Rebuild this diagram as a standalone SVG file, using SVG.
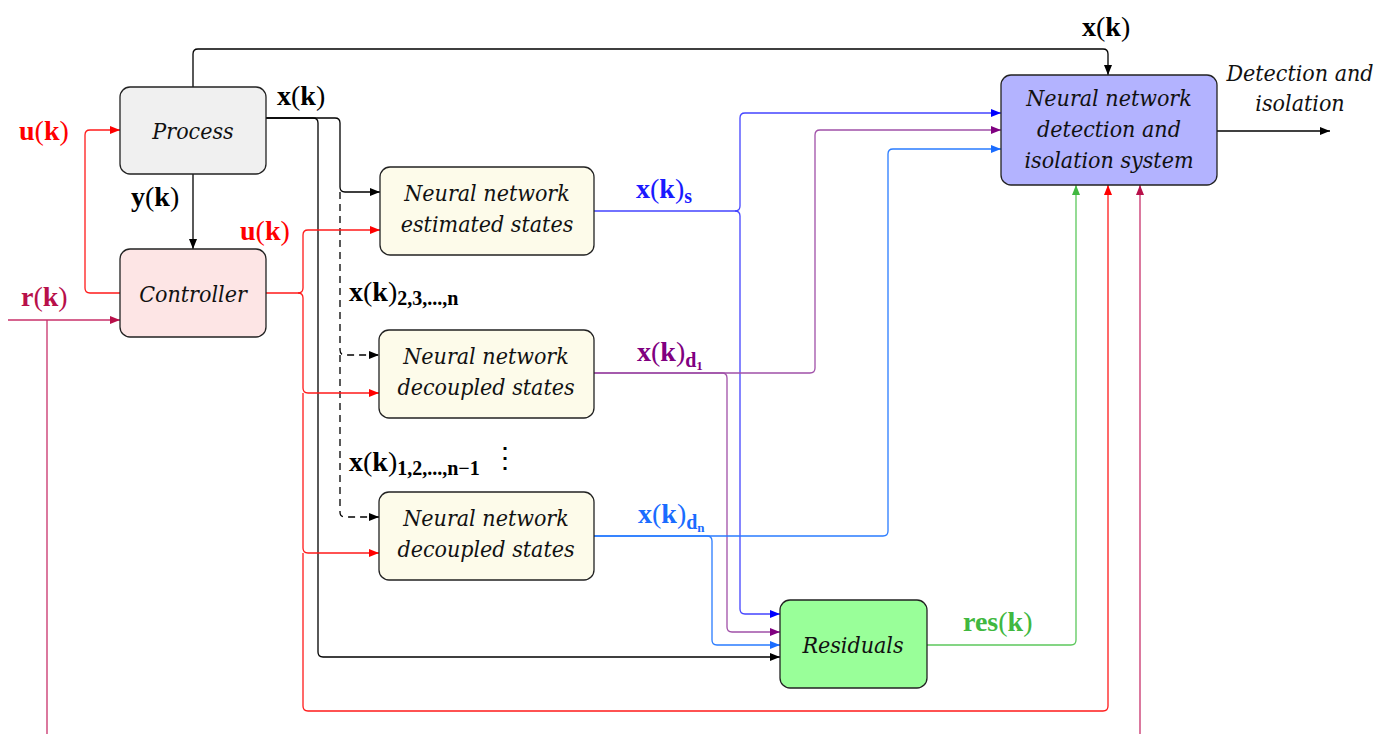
<svg xmlns="http://www.w3.org/2000/svg" width="1388" height="734" viewBox="0 0 1388 734">
<style>
.box{stroke:#222;stroke-width:1.3}
.lbl{font-family:"DejaVu Serif","Liberation Serif",serif;font-stretch:condensed;font-style:italic;font-size:23px;text-anchor:middle;fill:#111}
.m{font-family:"Liberation Serif",serif;font-size:28px}
.b{font-weight:bold}
.sub{font-weight:bold;font-size:20px}
.c{fill:none;stroke-width:1.3}
.k{stroke:#000}
.r{stroke:#ff1a1a}
.cr{stroke:#c8306a}
.g{stroke:#5cc85c}
.bl{stroke:#4444ff}
.pu{stroke:#a050a8}
.lb{stroke:#2a7cff}
</style>
<defs>
<marker id="ak" markerWidth="10" markerHeight="8" refX="10" refY="4" orient="auto" markerUnits="userSpaceOnUse"><path d="M0,0 L10,4 L0,8 Z" fill="#000"/></marker>
<marker id="ar" markerWidth="10" markerHeight="8" refX="10" refY="4" orient="auto" markerUnits="userSpaceOnUse"><path d="M0,0 L10,4 L0,8 Z" fill="#ff0000"/></marker>
<marker id="acr" markerWidth="10" markerHeight="8" refX="10" refY="4" orient="auto" markerUnits="userSpaceOnUse"><path d="M0,0 L10,4 L0,8 Z" fill="#b8104a"/></marker>
<marker id="ag" markerWidth="10" markerHeight="8" refX="10" refY="4" orient="auto" markerUnits="userSpaceOnUse"><path d="M0,0 L10,4 L0,8 Z" fill="#40b840"/></marker>
<marker id="abl" markerWidth="10" markerHeight="8" refX="10" refY="4" orient="auto" markerUnits="userSpaceOnUse"><path d="M0,0 L10,4 L0,8 Z" fill="#0000ff"/></marker>
<marker id="apu" markerWidth="10" markerHeight="8" refX="10" refY="4" orient="auto" markerUnits="userSpaceOnUse"><path d="M0,0 L10,4 L0,8 Z" fill="#800080"/></marker>
<marker id="alb" markerWidth="10" markerHeight="8" refX="10" refY="4" orient="auto" markerUnits="userSpaceOnUse"><path d="M0,0 L10,4 L0,8 Z" fill="#1a6cff"/></marker>
</defs>
<rect width="1388" height="734" fill="#fff"/>

<g id="connectors">
<path class="c k" d="M193,87 V54 Q193,49 198,49 H1103 Q1108,49 1108,54 V75" marker-end="url(#ak)"/>
<path class="c k" d="M266,118 H335 Q340,118 340,123 V187 Q340,192 345,192 H380" marker-end="url(#ak)"/>
<path class="c k" d="M266,118 H313 Q318,118 318,123 V652 Q318,657 323,657 H780" marker-end="url(#ak)"/>
<path class="c k" d="M193,174 V249" marker-end="url(#ak)"/>
<path class="c k" d="M340,192 V350 Q340,355 345,355 H379" stroke-dasharray="7,5" marker-end="url(#ak)"/>
<path class="c k" d="M340,355 V512 Q340,517 345,517 H379" stroke-dasharray="7,5" marker-end="url(#ak)"/>
<path class="c k" d="M1217,131 H1330" marker-end="url(#ak)"/>

<path class="c r" d="M120,293 H90 Q85,293 85,288 V135 Q85,130 90,130 H120" marker-end="url(#ar)"/>
<path class="c r" d="M266,293 H298 Q303,293 303,288 V235 Q303,230 308,230 H380" marker-end="url(#ar)"/>
<path class="c r" d="M298,293 Q303,293 303,298 V388 Q303,393 308,393 H379" marker-end="url(#ar)"/>
<path class="c r" d="M303,393 V548 Q303,553 308,553 H379" marker-end="url(#ar)"/>
<path class="c r" d="M303,553 V706 Q303,711 308,711 H1103 Q1108,711 1108,706 V185" marker-end="url(#ar)"/>

<path class="c cr" d="M8,320 H120" marker-end="url(#acr)"/>
<path class="c cr" d="M47,320 V734"/>
<path class="c cr" d="M1140,734 V185" marker-end="url(#acr)"/>

<path class="c g" d="M927,645 H1071 Q1076,645 1076,640 V185" marker-end="url(#ag)"/>

<path class="c bl" d="M594,211 H735 Q740,211 740,206 V118 Q740,113 745,113 H1001" marker-end="url(#abl)"/>
<path class="c bl" d="M735,211 Q740,211 740,216 V609 Q740,614 745,614 H780" marker-end="url(#abl)"/>

<path class="c pu" d="M594,373 H810 Q815,373 815,368 V135 Q815,130 820,130 H1001" marker-end="url(#apu)"/>
<path class="c pu" d="M594,373 H722 Q727,373 727,378 V627 Q727,632 732,632 H780" marker-end="url(#apu)"/>

<path class="c lb" d="M594,536 H883 Q888,536 888,531 V154 Q888,149 893,149 H1001" marker-end="url(#alb)"/>
<path class="c lb" d="M594,536 H707 Q712,536 712,541 V640 Q712,645 717,645 H780" marker-end="url(#alb)"/>
</g>

<g id="process">
<rect class="box" x="120" y="87" width="146" height="87" rx="10" fill="#f0f0f0"/>
<text class="lbl" x="193" y="139">Process</text>
</g>
<g id="controller">
<rect class="box" x="120" y="249" width="146" height="88" rx="10" fill="#fde5e5"/>
<text class="lbl" x="193" y="302">Controller</text>
</g>
<g id="nn-estimated">
<rect class="box" x="380" y="167" width="214" height="88" rx="10" fill="#fdfbea"/>
<text class="lbl" x="487" y="201">Neural network</text>
<text class="lbl" x="487" y="232">estimated states</text>
</g>
<g id="nn-decoupled-1">
<rect class="box" x="379" y="330" width="215" height="88" rx="10" fill="#fdfbea"/>
<text class="lbl" x="486" y="364">Neural network</text>
<text class="lbl" x="486" y="395">decoupled states</text>
</g>
<g id="nn-decoupled-n">
<rect class="box" x="379" y="492" width="215" height="88" rx="10" fill="#fdfbea"/>
<text class="lbl" x="486" y="526">Neural network</text>
<text class="lbl" x="486" y="557">decoupled states</text>
</g>
<g id="nn-detection">
<rect class="box" x="1001" y="75" width="216" height="110" rx="10" fill="#b3b3ff"/>
<text class="lbl" x="1109" y="106">Neural network</text>
<text class="lbl" x="1109" y="137">detection and</text>
<text class="lbl" x="1109" y="168">isolation system</text>
</g>
<g id="residuals">
<rect class="box" x="780" y="600" width="147" height="88" rx="10" fill="#99ff99"/>
<text class="lbl" x="853" y="653">Residuals</text>
</g>

<g id="labels">
<text class="m" x="277" y="105" fill="#000"><tspan class="b">x</tspan>(<tspan class="b">k</tspan>)</text>
<text class="m" x="1082" y="36" fill="#000"><tspan class="b">x</tspan>(<tspan class="b">k</tspan>)</text>
<text class="m" x="131" y="206" fill="#000"><tspan class="b">y</tspan>(<tspan class="b">k</tspan>)</text>
<text class="m" x="19" y="140" fill="#ff0000"><tspan class="b">u</tspan>(<tspan class="b">k</tspan>)</text>
<text class="m" x="240" y="240" fill="#ff0000"><tspan class="b">u</tspan>(<tspan class="b">k</tspan>)</text>
<text class="m" x="21" y="306" fill="#b8104a"><tspan class="b">r</tspan>(<tspan class="b">k</tspan>)</text>
<text class="m" x="349" y="301" fill="#000"><tspan class="b">x</tspan>(<tspan class="b">k</tspan>)<tspan class="sub" dy="4">2,3,...,n</tspan></text>
<text class="m" x="349" y="471" fill="#000"><tspan class="b">x</tspan>(<tspan class="b">k</tspan>)<tspan class="sub" dy="4">1,2,...,n−1</tspan></text>
<text class="m" x="491" y="467" fill="#000">⋮</text>
<text class="m" x="636" y="198" fill="#1a1aff"><tspan class="b">x</tspan>(<tspan class="b">k</tspan>)<tspan class="sub" dy="5">s</tspan></text>
<text class="m" x="637" y="361" fill="#800080"><tspan class="b">x</tspan>(<tspan class="b">k</tspan>)<tspan class="sub" dy="6">d<tspan font-size="13" dy="3">1</tspan></tspan></text>
<text class="m" x="638" y="523" fill="#1a6cff"><tspan class="b">x</tspan>(<tspan class="b">k</tspan>)<tspan class="sub" dy="6">d<tspan font-size="13" dy="3">n</tspan></tspan></text>
<text class="m" x="963" y="631" fill="#40b840"><tspan class="b">res</tspan>(<tspan class="b">k</tspan>)</text>
<text class="lbl" x="1300" y="81">Detection and</text>
<text class="lbl" x="1300" y="111">isolation</text>
</g>
</svg>
